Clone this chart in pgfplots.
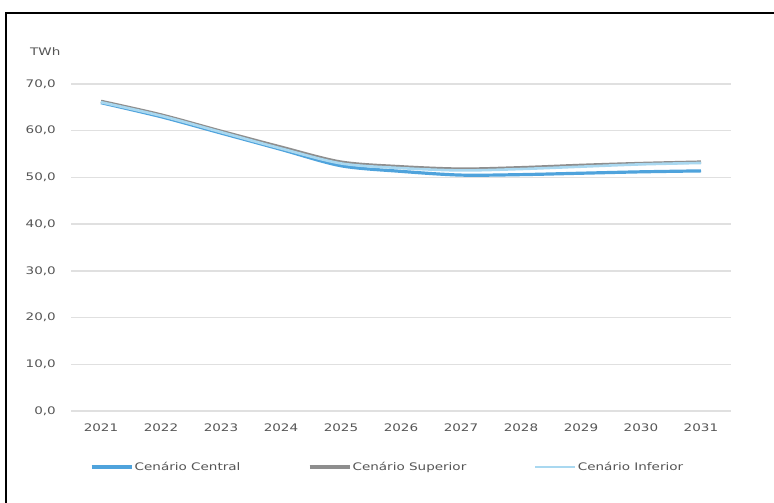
\documentclass[border=0pt]{standalone}
\usepackage{fontspec}
\setmainfont{DejaVu Sans}[FakeStretch=1.3]
\usepackage{pgfplots}
\pgfplotsset{compat=1.18}

\definecolor{txtgray}{HTML}{555555}
\definecolor{gridgray}{HTML}{E0E0E0}
\definecolor{central}{HTML}{4FA3DC}
\definecolor{superior}{HTML}{8E8E8E}
\definecolor{inferior}{HTML}{A9D8F0}

\begin{document}
\fontsize{10.4bp}{12bp}\selectfont
\begin{tikzpicture}
\path[use as bounding box] (0,0) rectangle (774bp,503bp);
\fill[white] (0,0) rectangle (774bp,503bp);
% frame
\draw[line width=2bp, black] (6bp,0) -- (6bp,490bp) -- (774bp,490bp);

\begin{axis}[
  at={(71bp,92bp)}, anchor=south west,
  scale only axis,
  width=660bp, height=327bp,
  xmin=2020.5, xmax=2031.5,
  ymin=0, ymax=70,
  xtick={2021,...,2031},
  ytick={0,10,...,70},
  x tick label style={/pgf/number format/1000 sep={}, inner sep=0pt, yshift=-13bp},
  y tick label style={/pgf/number format/.cd, fixed, fixed zerofill, precision=1, use comma, /tikz/.cd, inner sep=0pt, xshift=-15bp},
  /pgf/number format/assume math mode=true,
  tick label style={text=txtgray},
  major tick length=0pt,
  axis line style={draw=none},
  ymajorgrids,
  grid style={gridgray, line width=1.4bp},
  legend columns=3,
  legend style={draw=none, fill=none, at={(0,0)}, anchor=west,
    xshift=19bp, yshift=-56bp, inner sep=0pt, outer sep=0pt,
    text=txtgray,
    nodes={inner sep=1.5bp},
    /tikz/every even column/.append style={column sep=66bp}},
  legend image code/.code={\draw[#1] (0bp,0bp) -- (40bp,0bp);},
  clip=false,
]
\addplot[central, line width=3.2bp, smooth, tension=0.5] coordinates {
  (2021,66.0) (2022,63.0) (2023,59.5) (2024,56.0) (2025,52.5)
  (2026,51.3) (2027,50.5) (2028,50.6) (2029,50.9) (2030,51.2) (2031,51.4)};
\addlegendentry{Cenário Central}
\addplot[superior, line width=3.2bp, smooth, tension=0.5] coordinates {
  (2021,66.3) (2022,63.4) (2023,59.9) (2024,56.5) (2025,53.3)
  (2026,52.3) (2027,51.8) (2028,52.1) (2029,52.6) (2030,53.0) (2031,53.3)};
\addlegendentry{Cenário Superior}
\addplot[inferior, line width=2.6bp, smooth, tension=0.5] coordinates {
  (2021,66.1) (2022,63.2) (2023,59.7) (2024,56.2) (2025,53.0)
  (2026,52.0) (2027,51.5) (2028,51.8) (2029,52.3) (2030,52.8) (2031,53.1)};
\addlegendentry{Cenário Inferior}
\end{axis}

\node[anchor=west, text=txtgray, inner sep=0pt] at (30bp,451bp) {TWh};
\end{tikzpicture}
\end{document}
